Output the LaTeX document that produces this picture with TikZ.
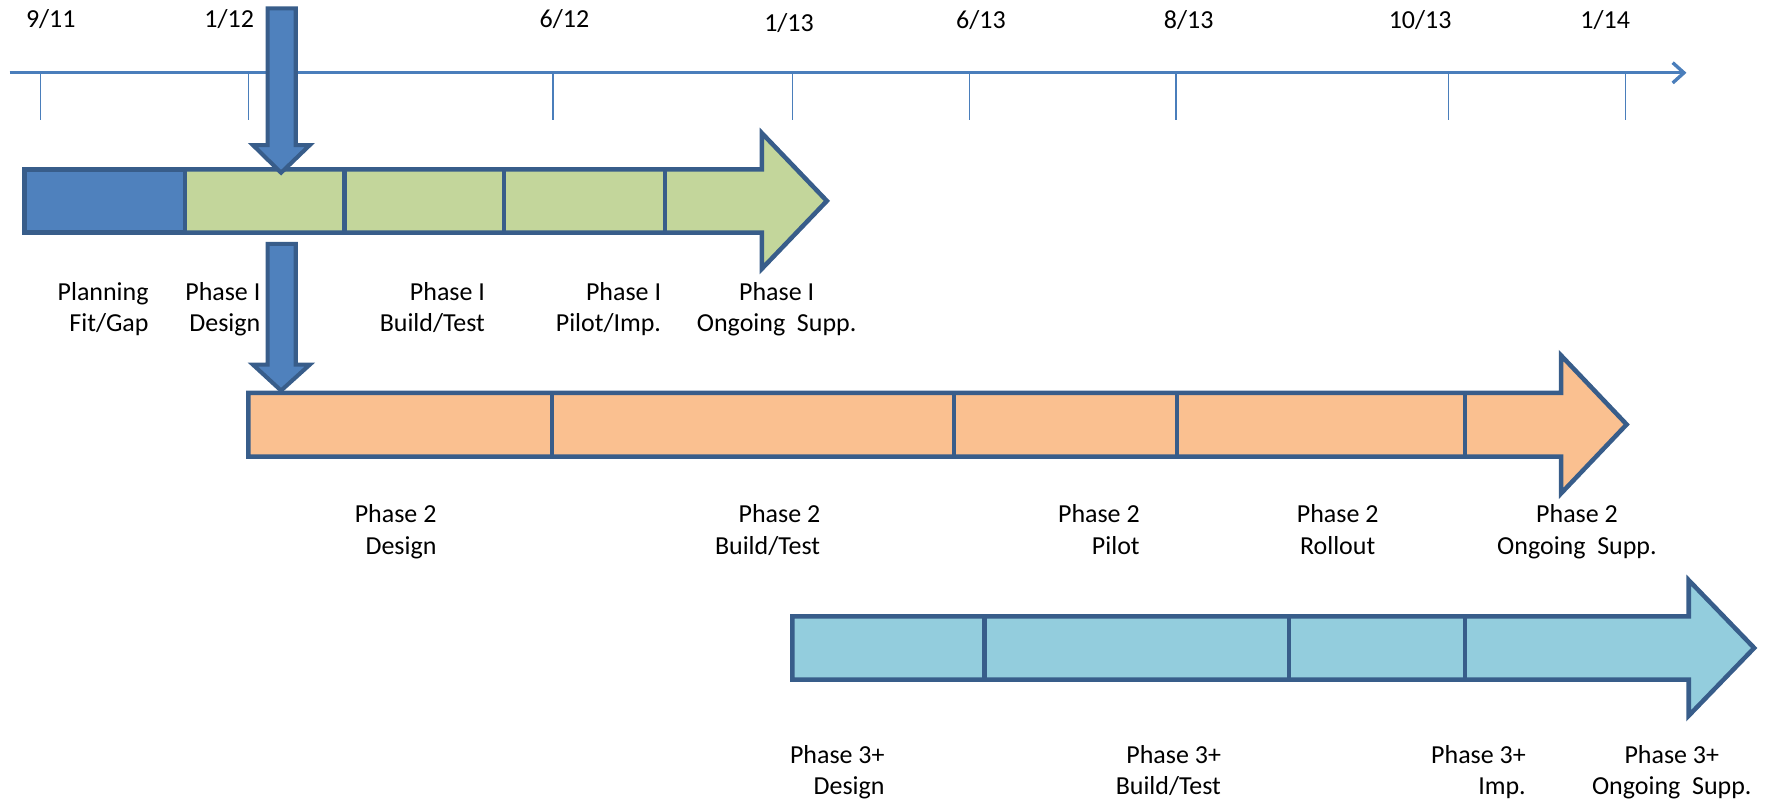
\documentclass[tikz,border=0pt]{standalone}
\usepackage{fontspec}
\setmainfont{Carlito}
\usetikzlibrary{arrows.meta}
\definecolor{edge}{HTML}{385D8A}
\definecolor{axisblue}{HTML}{4A7EBB}
\definecolor{planblue}{HTML}{4F81BD}
\definecolor{p1green}{HTML}{C3D69B}
\definecolor{p2orange}{HTML}{FAC090}
\definecolor{p3blue}{HTML}{93CDDD}
\newcommand{\lbl}[2]{\begin{tabular}[t]{@{}#1@{}}#2\end{tabular}}
\begin{document}
\begin{tikzpicture}[x=0.5pt,y=-0.5pt,
  txt/.style={inner sep=0pt,font=\fontsize{11.5}{14}\selectfont},
  rlbl/.style={txt,anchor=base east},
  clbl/.style={txt,anchor=base},
  datelbl/.style={txt,anchor=base},
  tick/.style={draw=axisblue,line width=0.7pt},
  barline/.style={draw=edge,line width=2pt,line join=miter},
  divider/.style={draw=edge,line width=2pt},
  downarrow/.style={draw=edge,fill=planblue,line width=1.8pt,line join=miter}]
\useasboundingbox (0,0) rectangle (1568,711);

% time axis
\coordinate (axs) at (8.5,64.5);
\coordinate (axe) at (1494,64.5);
\draw[draw=axisblue,line width=1.5pt,-{Straight Barb[length=5pt,width=9pt,line width=1.5pt]}] (axs) -- (axe);
\foreach \x in {36,220,490,702,859,1042,1283,1440}{
  \draw[tick] (\x,64.5) -- (\x,106);
}
\node[datelbl] (d1) at (45,24) {9/11};
\node[datelbl] (d2) at (203,24) {1/12};
\node[datelbl] (d3) at (500,24) {6/12};
\node[datelbl] (d4) at (699,28) {1/13};
\node[datelbl] (d5) at (869,25) {6/13};
\node[datelbl] (d6) at (1053,25) {8/13};
\node[datelbl] (d7) at (1258,25) {10/13};
\node[datelbl] (d8) at (1422,25) {1/14};

% bar 1
\path[barline,fill=p1green] (21.5,150) -- (675,150) -- (675,118) -- (732.5,178) -- (675,238) -- (675,206) -- (21.5,206) -- cycle;
\path[barline,fill=planblue] (21.5,150) rectangle (164,206);
\foreach \x in {305,446.5,589}{\draw[divider] (\x,150) -- (\x,206);}

% bar 2
\path[barline,fill=p2orange] (220,348) -- (1383,348) -- (1383,315) -- (1441,376) -- (1383,437) -- (1383,404.5) -- (220,404.5) -- cycle;
\foreach \x in {489,845,1042.5,1298}{\draw[divider] (\x,348) -- (\x,404.5);}

% bar 3
\path[barline,fill=p3blue] (702,546) -- (1496,546) -- (1496,514) -- (1554,574) -- (1496,634) -- (1496,602) -- (702,602) -- cycle;
\foreach \x in {872,1142,1298}{\draw[divider] (\x,546) -- (\x,602);}

% down arrows
\path[downarrow] (237,7.5) -- (262,7.5) -- (262,128.5) -- (274.5,128.5) -- (249,153) -- (224,128.5) -- (237,128.5) -- cycle;
\path[downarrow] (237,216) -- (262,216) -- (262,323) -- (274.5,323) -- (249,346) -- (224,323) -- (237,323) -- cycle;

% labels row 1
\node[rlbl] (plan) at (132,266) {\lbl{r}{Planning\\Fit/Gap}};
\node[rlbl] (p1d) at (231,266) {\lbl{r}{Phase I\\Design}};
\node[rlbl] (p1b) at (430,266) {\lbl{r}{Phase I\\Build/Test}};
\node[rlbl] (p1p) at (586,266) {\lbl{r}{Phase I\\Pilot/Imp.}};
\node[clbl] (p1o) at (688,266) {\lbl{c}{Phase I\\Ongoing\ \ Supp.}};

% labels row 2
\node[rlbl] (p2d) at (387,463) {\lbl{r}{Phase 2\\Design}};
\node[rlbl] (p2b) at (727,463) {\lbl{r}{Phase 2\\Build/Test}};
\node[rlbl] (p2p) at (1010,463) {\lbl{r}{Phase 2\\Pilot}};
\node[clbl] (p2r) at (1185,463) {\lbl{c}{Phase 2\\Rollout}};
\node[clbl] (p2o) at (1397,463) {\lbl{c}{Phase 2\\Ongoing\ \ Supp.}};

% labels row 3
\node[rlbl] (p3d) at (784,676) {\lbl{r}{Phase 3+\\Design}};
\node[rlbl] (p3b) at (1082,676) {\lbl{r}{Phase 3+\\Build/Test}};
\node[rlbl] (p3i) at (1352,676) {\lbl{r}{Phase 3+\\Imp.}};
\node[clbl] (p3o) at (1481,676) {\lbl{c}{Phase 3+\\Ongoing\ \ Supp.}};
\end{tikzpicture}
\end{document}
